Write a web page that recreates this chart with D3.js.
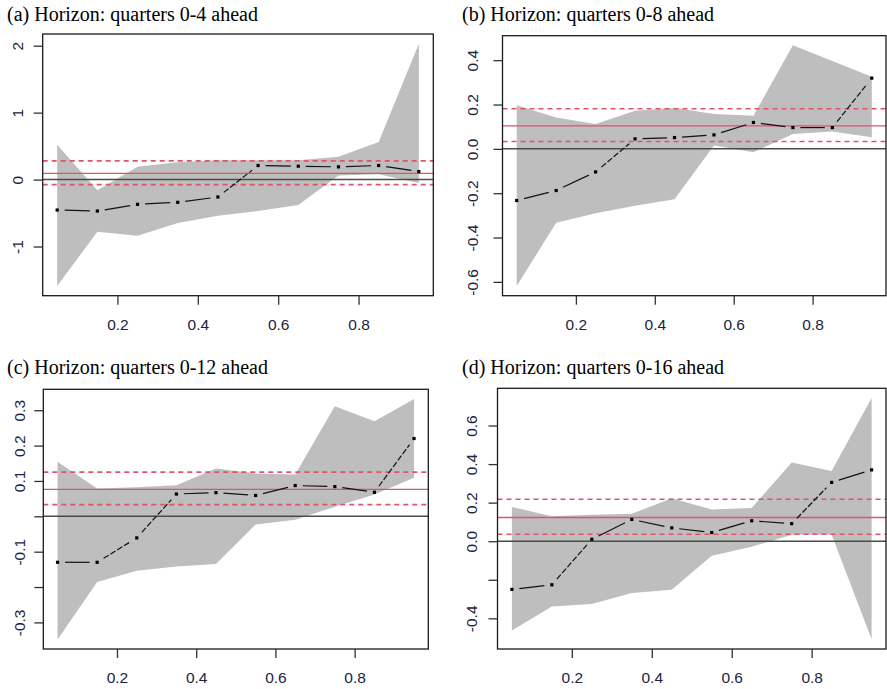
<!DOCTYPE html>
<html lang="en">
<head>
<meta charset="UTF-8">
<title>Quantile estimates by horizon</title>
<script src="https://cdn.jsdelivr.net/npm/d3@7"></script>
<style>
  body { margin: 0; background: #fff; }
  svg { display: block; }
</style>
</head>
<body>
<svg id="svg"></svg>
<script>

var WIDTH = 887;
var HEIGHT = 689;

// quantile grid (x axis)
var quantiles = [0.05, 0.15, 0.25, 0.35, 0.45, 0.55, 0.65, 0.75, 0.85, 0.95];
var xTicks = [0.2, 0.4, 0.6, 0.8];

// (a) quarters 0-4
var estA   = [-0.455, -0.47, -0.37, -0.34, -0.26, 0.21, 0.20, 0.19, 0.21, 0.12];
var upperA = [0.52, -0.16, 0.19, 0.26, 0.29, 0.29, 0.29, 0.34, 0.56, 2.03];
var lowerA = [-1.59, -0.78, -0.84, -0.65, -0.54, -0.47, -0.38, 0.06, 0.08, -0.05];
var olsA   = [0.094, -0.075, 0.28];   // estimate, lower, upper
var yTicksA  = [-1, 0, 1, 2];
var yLabelsA = ["-1", "0", "1", "2"];

// (b) quarters 0-8
var estB   = [-0.233, -0.188, -0.104, 0.045, 0.051, 0.063, 0.119, 0.096, 0.096, 0.319];
var upperB = [0.197, 0.142, 0.112, 0.172, 0.184, 0.157, 0.149, 0.467, 0.396, 0.325];
var lowerB = [-0.619, -0.333, -0.291, -0.257, -0.227, 0.015, -0.015, 0.067, 0.078, 0.052];
var olsB   = [0.104, 0.033, 0.181];
var yTicksB  = [-0.6, -0.4, -0.2, 0, 0.2, 0.4];
var yLabelsB = ["-0.6", "-0.4", "-0.2", "0.0", "0.2", "0.4"];

// (c) quarters 0-12
var estC   = [-0.130, -0.130, -0.061, 0.063, 0.067, 0.059, 0.087, 0.084, 0.068, 0.220];
var upperC = [0.154, 0.079, 0.082, 0.088, 0.135, 0.121, 0.118, 0.311, 0.269, 0.332];
var lowerC = [-0.348, -0.186, -0.154, -0.142, -0.135, -0.023, -0.010, 0.027, 0.062, 0.109];
var olsC   = [0.076, 0.033, 0.125];
var yTicksC  = [-0.3, -0.2, -0.1, 0, 0.1, 0.2, 0.3];
var yLabelsC = ["-0.3", "", "-0.1", "", "0.1", "0.2", "0.3"];

// (d) quarters 0-16
var estD   = [-0.250, -0.226, 0.010, 0.113, 0.069, 0.045, 0.106, 0.091, 0.305, 0.370];
var upperD = [0.178, 0.130, 0.137, 0.142, 0.223, 0.165, 0.172, 0.408, 0.364, 0.743];
var lowerD = [-0.463, -0.338, -0.326, -0.269, -0.252, -0.075, -0.029, 0.034, 0.034, -0.509];
var olsD   = [0.123, 0.036, 0.218];
var yTicksD  = [-0.4, -0.2, 0, 0.2, 0.4, 0.6];
var yLabelsD = ["-0.4", "", "0.0", "0.2", "0.4", "0.6"];

var titles = [
    "(a) Horizon: quarters 0-4 ahead",
    "(b) Horizon: quarters 0-8 ahead",
    "(c) Horizon: quarters 0-12 ahead",
    "(d) Horizon: quarters 0-16 ahead"
];

// plot boxes (pixels) and title positions
var layout = [
    {left: 42.7,  right: 433.3, top: 34,    bottom: 295.7, tx: 7,   ty: 21,  lab: 20},
    {left: 502.5, right: 886,   top: 35.7,  bottom: 295.7, tx: 462, ty: 21,  lab: 25},
    {left: 43.3,  right: 428.3, top: 389.3, bottom: 649,   tx: 7,   ty: 374, lab: 18},
    {left: 497.5, right: 886,   top: 388.3, bottom: 649,   tx: 462, ty: 374, lab: 21}
];

var panels = [
    {est: estA, up: upperA, lo: lowerA, ols: olsA, ticks: yTicksA, labels: yLabelsA},
    {est: estB, up: upperB, lo: lowerB, ols: olsB, ticks: yTicksB, labels: yLabelsB},
    {est: estC, up: upperC, lo: lowerC, ols: olsC, ticks: yTicksC, labels: yLabelsC},
    {est: estD, up: upperD, lo: lowerD, ols: olsD, ticks: yTicksD, labels: yLabelsD}
];

var RED = "#DF536B";
var BAND = "#bebebe";
var LABEL = "#1b2540";

// R style axis range: extend data range by 4% each side
var pad = function(ext){
    var r = ext[1] - ext[0];
    return [ext[0] - 0.04*r, ext[1] + 0.04*r];
};

var svg = d3.select('#svg')
            .attr("width", WIDTH)
            .attr("height", HEIGHT);

panels.forEach(function(p, k){
    var L = layout[k];

    var xScale = d3.scaleLinear()
                    .domain(pad(d3.extent(quantiles)))
                    .range([L.left, L.right]);

    var allY = p.est.concat(p.up, p.lo);
    var yScale = d3.scaleLinear()
                    .domain(pad(d3.extent(allY)))
                    .range([L.bottom, L.top]);

    var g = svg.append("g");

    // title
    g.append("text")
        .attr("x", L.tx)
        .attr("y", L.ty)
        .attr("font-family", "'Liberation Serif', 'Times New Roman', serif")
        .attr("font-size", "20px")
        .attr("fill", "#000")
        .text(titles[k]);

    // confidence band
    var area = d3.area()
                .x(function(d, i){ return xScale(quantiles[i]); })
                .y0(function(d, i){ return yScale(p.lo[i]); })
                .y1(function(d, i){ return yScale(p.up[i]); });

    g.append("path")
        .datum(p.est)
        .attr("d", area)
        .attr("fill", BAND)
        .attr("stroke", "none");

    // OLS estimate and its interval
    var hline = function(v, color, w, dash){
        g.append("line")
            .attr("x1", L.left).attr("x2", L.right)
            .attr("y1", yScale(v)).attr("y2", yScale(v))
            .attr("stroke", color)
            .attr("stroke-width", w)
            .attr("stroke-dasharray", dash || null);
    };
    hline(p.ols[0], RED, 1.3);
    hline(p.ols[1], RED, 1.6, "5,4");
    hline(p.ols[2], RED, 1.6, "5,4");
    hline(0, "#4a4a4a", 1.5);

    // quantile estimates: segments with gaps around the points
    var GAP = 7.5;
    for (var i = 0; i < quantiles.length - 1; i++) {
        var x1 = xScale(quantiles[i]),   y1 = yScale(p.est[i]);
        var x2 = xScale(quantiles[i+1]), y2 = yScale(p.est[i+1]);
        var len = Math.sqrt((x2-x1)*(x2-x1) + (y2-y1)*(y2-y1));
        if (len <= 2*GAP) continue;
        var ux = (x2-x1)/len, uy = (y2-y1)/len;
        g.append("line")
            .attr("x1", x1 + ux*GAP).attr("y1", y1 + uy*GAP)
            .attr("x2", x2 - ux*GAP).attr("y2", y2 - uy*GAP)
            .attr("stroke", "#111")
            .attr("stroke-width", 1.2)
            .attr("stroke-dasharray", len > 45 ? "6,2" : null);
    }

    g.selectAll("rect.pt")
        .data(p.est)
        .enter()
        .append("rect")
        .attr("class", "pt")
        .attr("x", function(d, i){ return xScale(quantiles[i]) - 1.6; })
        .attr("y", function(d){ return yScale(d) - 1.6; })
        .attr("width", 3.2)
        .attr("height", 3.2)
        .attr("fill", "#000");

    // box
    g.append("rect")
        .attr("x", L.left)
        .attr("y", L.top)
        .attr("width", L.right - L.left)
        .attr("height", L.bottom - L.top)
        .attr("fill", "none")
        .attr("stroke", "#1a1a1a")
        .attr("stroke-width", 1.3);

    // axes
    var xAxis = d3.axisBottom(xScale)
                    .tickValues(xTicks)
                    .tickSize(9)
                    .tickPadding(14)
                    .tickFormat(d3.format(".1f"));

    var gx = g.append("g")
        .attr("transform", "translate(0," + L.bottom + ")")
        .call(xAxis);
    gx.select(".domain").remove();
    gx.selectAll("line").attr("stroke", "#333").attr("stroke-width", 1.3);
    gx.selectAll("text")
        .attr("font-family", "'Liberation Sans', Arial, sans-serif")
        .attr("font-size", "15.5px")
        .attr("fill", LABEL);

    var yAxis = d3.axisLeft(yScale)
                    .tickValues(p.ticks)
                    .tickSize(9)
                    .tickFormat(function(d, i){ return p.labels[i]; });

    var gy = g.append("g")
        .attr("transform", "translate(" + L.left + ",0)")
        .call(yAxis);
    gy.select(".domain").remove();
    gy.selectAll("line").attr("stroke", "#333").attr("stroke-width", 1.3);
    gy.selectAll(".tick text")
        .attr("x", null)
        .attr("dy", null)
        .attr("transform", "translate(" + (-L.lab) + ",0) rotate(-90)")
        .attr("text-anchor", "middle")
        .attr("font-family", "'Liberation Sans', Arial, sans-serif")
        .attr("font-size", "15.5px")
        .attr("fill", LABEL);
});

</script>
</body>
</html>
